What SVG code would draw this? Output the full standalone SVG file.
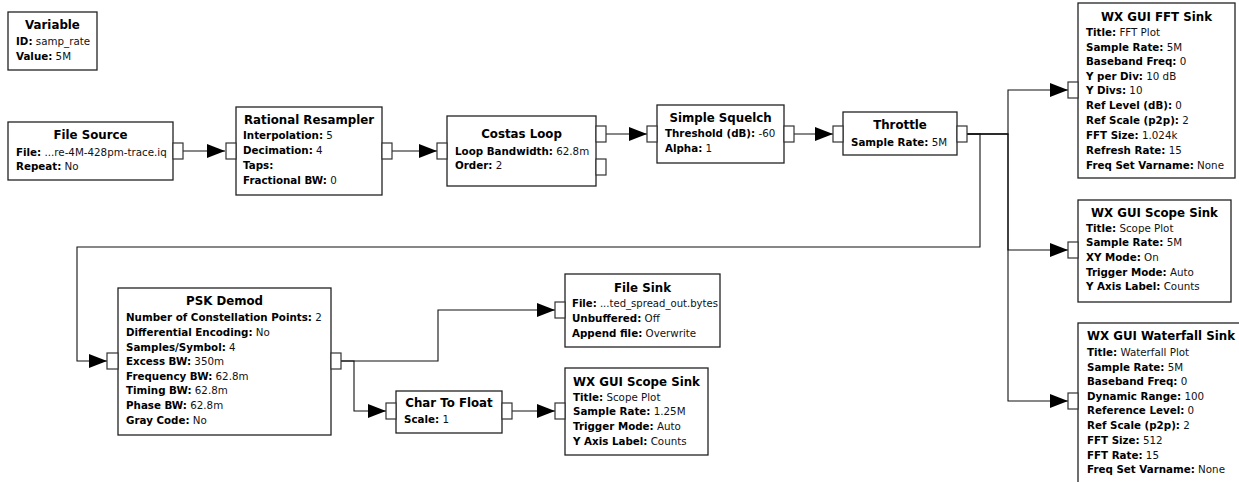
<svg xmlns="http://www.w3.org/2000/svg" width="1239" height="482" viewBox="0 0 1239 482">
<style>
.blk{fill:#fff;stroke:#222;stroke-width:1.3}
.port{fill:#fff;stroke:#333;stroke-width:1.2}
.ttl{font-family:"DejaVu Sans",sans-serif;font-size:11.8px;font-weight:bold;fill:#000;text-anchor:middle}
.p{font-family:"DejaVu Sans",sans-serif;font-size:10.3px;fill:#111}
.k{font-weight:bold;fill:#000}
.wire{fill:none;stroke:#111;stroke-width:1.1}
</style>
<defs>
<marker id="ah" markerUnits="userSpaceOnUse" markerWidth="18" markerHeight="14" refX="18" refY="7" orient="auto"><path d="M0,0 L18,7 L0,14 Z" fill="#000"/></marker>
</defs>
<g id="connectors">
<path class="wire" marker-end="url(#ah)" d="M183,151 H225"/>
<path class="wire" marker-end="url(#ah)" d="M392,151 H437"/>
<path class="wire" marker-end="url(#ah)" d="M606,134 H647"/>
<path class="wire" marker-end="url(#ah)" d="M794,134 H833"/>
<path class="wire" marker-end="url(#ah)" d="M967,134 H1008 V90 H1068"/>
<path class="wire" marker-end="url(#ah)" d="M967,134 H1008 V250 H1068"/>
<path class="wire" marker-end="url(#ah)" d="M967,134 H1008 V401 H1068"/>
<path class="wire" marker-end="url(#ah)" d="M967,134 H980 V247 H77 V361 H107"/>
<path class="wire" marker-end="url(#ah)" d="M341,361 H438 V310 H555"/>
<path class="wire" marker-end="url(#ah)" d="M341,361 H354 V411 H386"/>
<path class="wire" marker-end="url(#ah)" d="M512,411 H555"/>
</g>
<g id="variable">
<rect class="blk" x="8" y="12" width="89" height="58"/>
<text class="ttl" x="52.5" y="29">Variable</text>
<text class="p" x="16" y="45"><tspan class="k">ID:</tspan> samp_rate</text>
<text class="p" x="16" y="60"><tspan class="k">Value:</tspan> 5M</text>
</g>
<g id="file_source">
<rect class="blk" x="8" y="122" width="165" height="58"/>
<rect class="port" x="173" y="143" width="10" height="16"/>
<text class="ttl" x="90.5" y="139">File Source</text>
<text class="p" x="16" y="155.5"><tspan class="k">File:</tspan> ...re-4M-428pm-trace.iq</text>
<text class="p" x="16" y="170"><tspan class="k">Repeat:</tspan> No</text>
</g>
<g id="rational_resampler">
<rect class="blk" x="236" y="107" width="146" height="88"/>
<rect class="port" x="226" y="143" width="10" height="16"/>
<rect class="port" x="382" y="143" width="10" height="16"/>
<text class="ttl" x="309" y="124">Rational Resampler</text>
<text class="p" x="243" y="139"><tspan class="k">Interpolation:</tspan> 5</text>
<text class="p" x="243" y="154"><tspan class="k">Decimation:</tspan> 4</text>
<text class="p" x="243" y="169"><tspan class="k">Taps:</tspan></text>
<text class="p" x="243" y="184"><tspan class="k">Fractional BW:</tspan> 0</text>
</g>
<g id="costas_loop">
<rect class="blk" x="447" y="116" width="149" height="70"/>
<rect class="port" x="437" y="143" width="10" height="16"/>
<rect class="port" x="596" y="126" width="10" height="16"/>
<rect class="port" x="596" y="159" width="10" height="16"/>
<text class="ttl" x="521.5" y="138">Costas Loop</text>
<text class="p" x="455" y="155"><tspan class="k">Loop Bandwidth:</tspan> 62.8m</text>
<text class="p" x="455" y="169"><tspan class="k">Order:</tspan> 2</text>
</g>
<g id="simple_squelch">
<rect class="blk" x="657" y="105" width="127" height="58"/>
<rect class="port" x="647" y="126" width="10" height="16"/>
<rect class="port" x="784" y="126" width="10" height="16"/>
<text class="ttl" x="720.5" y="122">Simple Squelch</text>
<text class="p" x="665" y="137"><tspan class="k">Threshold (dB):</tspan> -60</text>
<text class="p" x="665" y="152"><tspan class="k">Alpha:</tspan> 1</text>
</g>
<g id="throttle">
<rect class="blk" x="843" y="112" width="114" height="43"/>
<rect class="port" x="833" y="126" width="10" height="16"/>
<rect class="port" x="957" y="126" width="10" height="16"/>
<text class="ttl" x="900" y="129">Throttle</text>
<text class="p" x="851" y="146"><tspan class="k">Sample Rate:</tspan> 5M</text>
</g>
<g id="fft_sink">
<rect class="blk" x="1078" y="3" width="157" height="175"/>
<rect class="port" x="1068" y="82" width="10" height="16"/>
<text class="ttl" x="1156.5" y="21">WX GUI FFT Sink</text>
<text class="p" x="1086" y="36"><tspan class="k">Title:</tspan> FFT Plot</text>
<text class="p" x="1086" y="51"><tspan class="k">Sample Rate:</tspan> 5M</text>
<text class="p" x="1086" y="65"><tspan class="k">Baseband Freq:</tspan> 0</text>
<text class="p" x="1086" y="80"><tspan class="k">Y per Div:</tspan> 10 dB</text>
<text class="p" x="1086" y="94"><tspan class="k">Y Divs:</tspan> 10</text>
<text class="p" x="1086" y="109"><tspan class="k">Ref Level (dB):</tspan> 0</text>
<text class="p" x="1086" y="124"><tspan class="k">Ref Scale (p2p):</tspan> 2</text>
<text class="p" x="1086" y="139"><tspan class="k">FFT Size:</tspan> 1.024k</text>
<text class="p" x="1086" y="154"><tspan class="k">Refresh Rate:</tspan> 15</text>
<text class="p" x="1086" y="169"><tspan class="k">Freq Set Varname:</tspan> None</text>
</g>
<g id="scope_sink_1">
<rect class="blk" x="1078" y="200" width="153" height="102"/>
<rect class="port" x="1068" y="242" width="10" height="16"/>
<text class="ttl" x="1154.5" y="217">WX GUI Scope Sink</text>
<text class="p" x="1086" y="232"><tspan class="k">Title:</tspan> Scope Plot</text>
<text class="p" x="1086" y="246"><tspan class="k">Sample Rate:</tspan> 5M</text>
<text class="p" x="1086" y="261"><tspan class="k">XY Mode:</tspan> On</text>
<text class="p" x="1086" y="276"><tspan class="k">Trigger Mode:</tspan> Auto</text>
<text class="p" x="1086" y="290"><tspan class="k">Y Axis Label:</tspan> Counts</text>
</g>
<g id="waterfall_sink">
<rect class="blk" x="1078" y="323" width="170" height="170"/>
<rect class="port" x="1068" y="393" width="10" height="16"/>
<text class="ttl" x="1087" y="340" style="text-anchor:start">WX GUI Waterfall Sink</text>
<text class="p" x="1087" y="356"><tspan class="k">Title:</tspan> Waterfall Plot</text>
<text class="p" x="1087" y="371"><tspan class="k">Sample Rate:</tspan> 5M</text>
<text class="p" x="1087" y="385"><tspan class="k">Baseband Freq:</tspan> 0</text>
<text class="p" x="1087" y="400"><tspan class="k">Dynamic Range:</tspan> 100</text>
<text class="p" x="1087" y="414"><tspan class="k">Reference Level:</tspan> 0</text>
<text class="p" x="1087" y="429"><tspan class="k">Ref Scale (p2p):</tspan> 2</text>
<text class="p" x="1087" y="444"><tspan class="k">FFT Size:</tspan> 512</text>
<text class="p" x="1087" y="459"><tspan class="k">FFT Rate:</tspan> 15</text>
<text class="p" x="1087" y="473"><tspan class="k">Freq Set Varname:</tspan> None</text>
</g>
<g id="psk_demod">
<rect class="blk" x="118" y="288" width="213" height="147"/>
<rect class="port" x="107" y="353" width="11" height="16"/>
<rect class="port" x="331" y="353" width="10" height="16"/>
<text class="ttl" x="224.5" y="305">PSK Demod</text>
<text class="p" x="126" y="321"><tspan class="k">Number of Constellation Points:</tspan> 2</text>
<text class="p" x="126" y="336"><tspan class="k">Differential Encoding:</tspan> No</text>
<text class="p" x="126" y="351"><tspan class="k">Samples/Symbol:</tspan> 4</text>
<text class="p" x="126" y="365"><tspan class="k">Excess BW:</tspan> 350m</text>
<text class="p" x="126" y="380"><tspan class="k">Frequency BW:</tspan> 62.8m</text>
<text class="p" x="126" y="394"><tspan class="k">Timing BW:</tspan> 62.8m</text>
<text class="p" x="126" y="409"><tspan class="k">Phase BW:</tspan> 62.8m</text>
<text class="p" x="126" y="424"><tspan class="k">Gray Code:</tspan> No</text>
</g>
<g id="file_sink">
<rect class="blk" x="565" y="274" width="155" height="73"/>
<rect class="port" x="555" y="302" width="10" height="16"/>
<text class="ttl" x="642.5" y="292">File Sink</text>
<text class="p" x="572" y="307" textLength="146" lengthAdjust="spacingAndGlyphs"><tspan class="k">File:</tspan> ...ted_spread_out.bytes</text>
<text class="p" x="572" y="322"><tspan class="k">Unbuffered:</tspan> Off</text>
<text class="p" x="572" y="337"><tspan class="k">Append file:</tspan> Overwrite</text>
</g>
<g id="char_to_float">
<rect class="blk" x="396" y="391" width="106" height="42"/>
<rect class="port" x="386" y="403" width="10" height="16"/>
<rect class="port" x="502" y="403" width="10" height="16"/>
<text class="ttl" x="449" y="407">Char To Float</text>
<text class="p" x="404" y="423"><tspan class="k">Scale:</tspan> 1</text>
</g>
<g id="scope_sink_2">
<rect class="blk" x="565" y="368" width="143" height="87"/>
<rect class="port" x="555" y="403" width="10" height="16"/>
<text class="ttl" x="636.5" y="386">WX GUI Scope Sink</text>
<text class="p" x="573" y="401"><tspan class="k">Title:</tspan> Scope Plot</text>
<text class="p" x="573" y="415"><tspan class="k">Sample Rate:</tspan> 1.25M</text>
<text class="p" x="573" y="430"><tspan class="k">Trigger Mode:</tspan> Auto</text>
<text class="p" x="573" y="445"><tspan class="k">Y Axis Label:</tspan> Counts</text>
</g>
</svg>
